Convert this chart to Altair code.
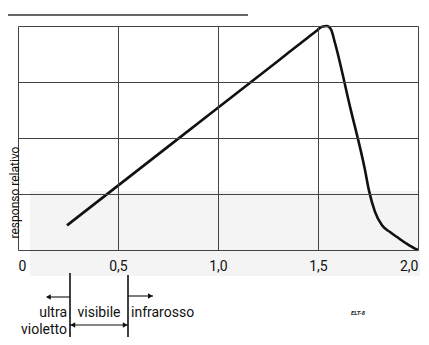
import altair as alt
import pandas as pd

# response curve (wavelength in µm, relative response)
curve_x = [0.245, 0.80, 1.30, 1.45, 1.495, 1.52, 1.545, 1.565, 1.585, 1.66, 1.735,
           1.755, 1.785, 1.82, 1.86, 1.895, 1.94, 1.985, 2.0]
curve_y = [0.11, 0.496, 0.844, 0.949, 0.98, 0.997, 1.0, 0.985, 0.924, 0.64, 0.357,
           0.265, 0.17, 0.11, 0.08, 0.058, 0.03, 0.006, 0.0]

x_ticks = [0, 0.5, 1.0, 1.5, 2.0]
y_ticks = [0, 0.25, 0.5, 0.75, 1.0]
y_title = "responso relativo"

# spectral band annotation
band_limits = [0.26, 0.55]
band_labels = ["ultra", "violetto", "visibile", "infrarosso"]
code_label = "ELT-8"

FONT = "Roboto, Liberation Sans Narrow, DejaVu Sans Condensed, sans-serif"

df = pd.DataFrame({"x": curve_x, "y": curve_y})

xs = alt.Scale(domain=[0, 2.0], nice=False)
ys = alt.Scale(domain=[0, 1.0], nice=False)

x_axis = alt.Axis(values=x_ticks, grid=True, ticks=False, domain=False, title=None,
                  labelFont=FONT, labelFontSize=14, labelColor="#111",
                  labelPadding=9, gridColor="#444", gridWidth=1, zindex=1,
                  labelExpr="datum.value == 0 ? '0' : replace(format(datum.value, '.1f'), '.', ',')")
y_axis = alt.Axis(values=y_ticks, grid=True, ticks=False, domain=False, labels=False,
                  title=y_title, titleFont=FONT, titleFontSize=12, titleFontWeight="normal",
                  titleColor="#111", titleAngle=-90, titleX=-4, titleY=166,
                  titleAlign="center", titleBaseline="middle",
                  gridColor="#444", gridWidth=1, zindex=1)

shade = alt.Chart(pd.DataFrame({"a": [0.06], "b": [2.01]})).mark_rect(
    color="#f4f4f4").encode(
    x=alt.X("a:Q", scale=xs, axis=x_axis), x2="b:Q",
    y=alt.value(165), y2=alt.value(250))

frame = alt.Chart(pd.DataFrame({"x": [0], "y": [0]})).mark_point(opacity=0).encode(
    x=alt.X("x:Q", scale=xs, axis=x_axis), y=alt.Y("y:Q", scale=ys, axis=y_axis))

line = alt.Chart(df).mark_line(color="#111", strokeWidth=2.6, interpolate="monotone").encode(
    x=alt.X("x:Q", scale=xs), y=alt.Y("y:Q", scale=ys))

top_rule = alt.Chart(pd.DataFrame({"k": [0]})).mark_rule(color="#333", strokeWidth=1.6).encode(
    x=alt.value(-18), x2=alt.value(230), y=alt.value(-11))

vlines = alt.Chart(pd.DataFrame({"x": band_limits, "t": [247, 249], "b": [312, 312]})).mark_rule(
    color="#111", strokeWidth=1.6).encode(
    x=alt.X("x:Q", scale=xs), y=alt.Y("t:Q", scale=None), y2="b:Q")

arrows_df = pd.DataFrame({
    "x1": [band_limits[0], band_limits[1], band_limits[0]],
    "x2": [0.145, 0.675, band_limits[1]],
    "y": [271, 270, 299],
})
arrow_lines = alt.Chart(arrows_df).mark_rule(color="#111", strokeWidth=1.1).encode(
    x=alt.X("x1:Q", scale=xs), x2="x2:Q", y=alt.Y("y:Q", scale=None))

heads_df = pd.DataFrame({
    "x": [0.152, 0.662, 0.536, 0.274],
    "y": [271, 270, 299, 299],
    "s": ["triangle-left", "triangle-right", "triangle-right", "triangle-left"],
})
heads = alt.Chart(heads_df).mark_point(filled=True, color="#111", size=30, opacity=1).encode(
    x=alt.X("x:Q", scale=xs), y=alt.Y("y:Q", scale=None),
    shape=alt.Shape("s:N", scale=None, legend=None))

labels_df = pd.DataFrame({
    "x": [0.245, 0.245, 0.405, 0.565],
    "y": [287, 304, 287, 287],
    "t": band_labels,
    "a": ["right", "right", "center", "left"],
})
texts = []
for al in ["right", "center", "left"]:
    sub = labels_df[labels_df["a"] == al]
    texts.append(alt.Chart(sub).mark_text(font=FONT, fontSize=14, color="#111",
                                          align=al, baseline="middle").encode(
        x=alt.X("x:Q", scale=xs), y=alt.Y("y:Q", scale=None), text="t:N"))

code = alt.Chart(pd.DataFrame({"x": [1.7], "t": [code_label]})).mark_text(
    font=FONT, fontSize=6, fontWeight="bold", fontStyle="italic", color="#222",
    align="center", baseline="middle").encode(
    x=alt.X("x:Q", scale=xs), y=alt.value(287), text="t:N")

chart = alt.layer(shade, frame, line, top_rule, vlines, arrow_lines, heads, *texts, code).properties(
    width=400, height=224,
    autosize=alt.AutoSizeParams(type="none"),
    padding={"left": 10, "top": 18, "right": 3, "bottom": 87},
).configure_view(stroke="#444", strokeWidth=1).configure(background="white")

chart.save("out.html", embed_options={"renderer": "svg", "actions": False})
